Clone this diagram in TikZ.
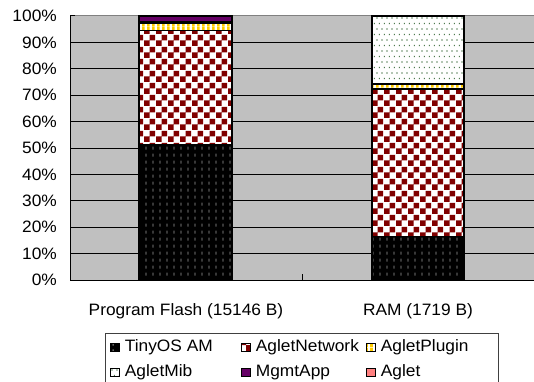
\documentclass[tikz,border=0pt]{standalone}
\usepackage{fontspec}
\setmainfont[FakeStretch=1.05]{Liberation Sans}
\usetikzlibrary{patterns, positioning}

\definecolor{plotgray}{HTML}{C0C0C0}
\definecolor{netred}{HTML}{800000}
\definecolor{plugyellow}{HTML}{FFCC00}
\definecolor{mibgreen}{HTML}{4F7A4F}
\definecolor{mgmtpurple}{HTML}{660066}
\definecolor{agletpink}{HTML}{FF8080}

% fill patterns of the bar segments
\pgfdeclarepatternformonly{amdash}{\pgfpointorigin}{\pgfqpoint{6.5pt}{7pt}}{\pgfqpoint{6.5pt}{7pt}}{%
  \pgfpathrectangle{\pgfqpoint{2.7pt}{1.5pt}}{\pgfqpoint{1pt}{3.5pt}}\pgfusepath{fill}}
\pgfdeclarepatternformonly{bigcheck}{\pgfpointorigin}{\pgfqpoint{12pt}{12pt}}{\pgfqpoint{12pt}{12pt}}{%
  \pgfpathrectangle{\pgfpointorigin}{\pgfqpoint{6pt}{6pt}}%
  \pgfpathrectangle{\pgfqpoint{6pt}{6pt}}{\pgfqpoint{6pt}{6pt}}\pgfusepath{fill}}
\pgfdeclarepatternformonly{plugstripes}{\pgfpointorigin}{\pgfqpoint{5.3pt}{5pt}}{\pgfqpoint{5.3pt}{5pt}}{%
  \pgfpathrectangle{\pgfpointorigin}{\pgfqpoint{3pt}{5pt}}\pgfusepath{fill}}
\pgfdeclarepatternformonly{mibdots}{\pgfpointorigin}{\pgfqpoint{5.3pt}{11.4pt}}{\pgfqpoint{5.3pt}{11.4pt}}{%
  \pgfpathrectangle{\pgfqpoint{0.5pt}{0.5pt}}{\pgfqpoint{1.2pt}{1.2pt}}%
  \pgfpathrectangle{\pgfqpoint{3.15pt}{6.2pt}}{\pgfqpoint{1.2pt}{1.2pt}}\pgfusepath{fill}}

\begin{document}
\begin{tikzpicture}[
    x=1pt, y=1pt,
    lbl/.style={font=\fontsize{16.5}{20}\selectfont, inner sep=0pt},
    seg/.style={draw=black, line width=1.3pt},
    tinyos/.style={preaction={fill=black}, pattern=amdash, pattern color=gray!75},
    network/.style={preaction={fill=white}, pattern=bigcheck, pattern color=netred},
    plugin/.style={preaction={fill=white}, pattern=plugstripes, pattern color=plugyellow},
    mib/.style={preaction={fill=white}, pattern=mibdots, pattern color=mibgreen},
    mgmt/.style={fill=mgmtpurple},
    aglet/.style={fill=agletpink},
    key/.style={draw=black, line width=0.9pt, minimum size=8.5pt, inner sep=0pt}
]
\useasboundingbox (0,0) rectangle (534,381);

% plot area, y in percent
\begin{scope}[shift={(0,101)}, y=2.64pt]
\fill[plotgray] (70,0) rectangle (534,100);
\foreach \p in {10,20,...,90}
  \draw[line width=0.9pt] (70,\p) -- (534,\p);
\draw[gray, line width=1pt] (70,100) -- (534,100);
\draw[line width=1pt] (70,100) -- (70,0) -- (534,0);
\foreach \p in {0,10,...,100} {
  \draw[line width=1pt] (70,\p) -- (75,\p);
  \node[lbl, anchor=east] (tick\p) at (57,\p) {\p\%};
}
\draw[line width=1pt] (302,0) -- (302,2.3);

% bars
\foreach \lo/\hi/\sty in {0/51.1/tinyos, 51.1/94.4/network, 94.4/97.3/plugin, 97.3/97.7/mib, 97.7/100/mgmt}
  \draw[seg, \sty] (139,\lo) rectangle (232,\hi);
\foreach \lo/\hi/\sty in {0/16.6/tinyos, 16.6/72.4/network, 72.4/74.2/plugin, 74.2/100/mib}
  \draw[seg, \sty] (372,\lo) rectangle (464,\hi);
\end{scope}

\node[lbl] (flash) at (186,70) {Program Flash (15146 B)};
\node[lbl] (ram) at (418,70) {RAM (1719 B)};

% legend
\draw[darkgray, line width=0.8pt] (105,-10) rectangle (498,48);
\node[key, tinyos] (kTiny) at (115,33.5) {};
\node[lbl, right=5pt of kTiny] (lTiny) {TinyOS AM};
\node[key, network] (kNet) at (246,33.5) {};
\node[lbl, right=5pt of kNet] (lNet) {AgletNetwork};
\node[key, plugin] (kPlug) at (371,33.5) {};
\node[lbl, right=5pt of kPlug] (lPlug) {AgletPlugin};
\node[key, mib] (kMib) at (115,8.5) {};
\node[lbl, right=5pt of kMib] (lMib) {AgletMib};
\node[key, mgmt] (kMgmt) at (246,8.5) {};
\node[lbl, right=5pt of kMgmt] (lMgmt) {MgmtApp};
\node[key, aglet] (kAglet) at (371,8.5) {};
\node[lbl, right=5pt of kAglet] (lAglet) {Aglet};
\end{tikzpicture}
\end{document}
